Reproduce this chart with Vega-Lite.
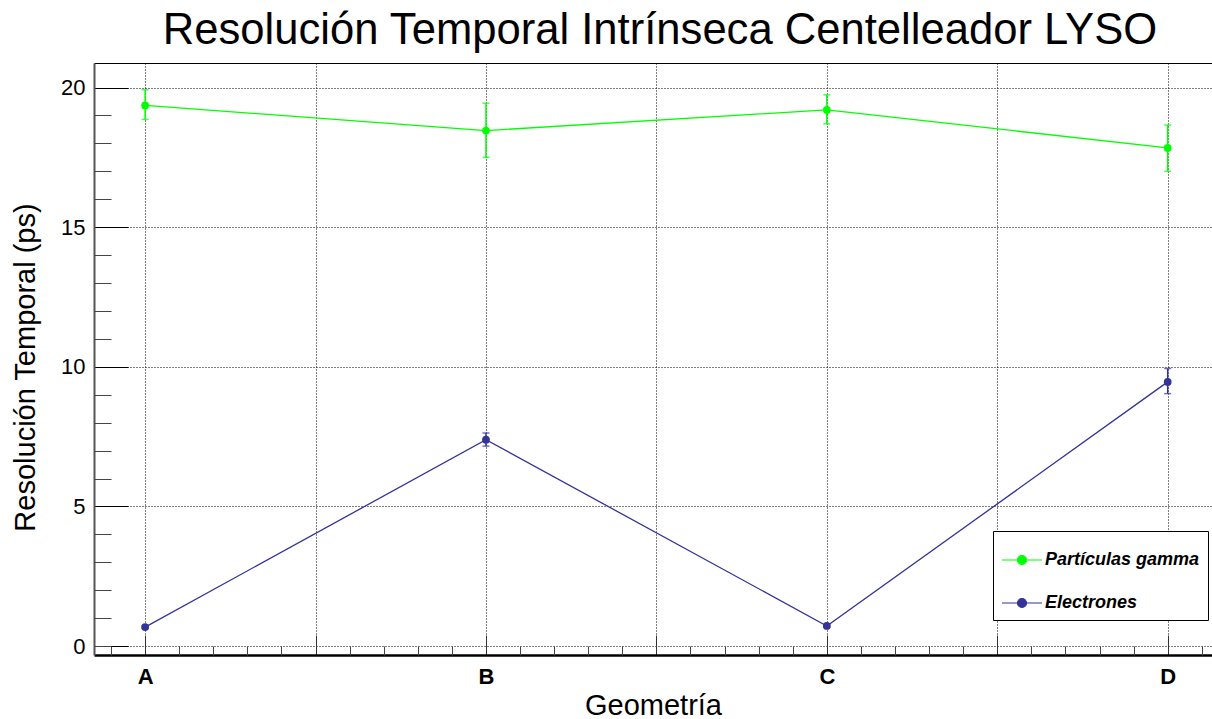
{
  "$schema": "https://vega.github.io/schema/vega-lite/v6.json",
  "width": 1118,
  "height": 592,
  "autosize": "none",
  "padding": {"left": 94, "top": 63, "right": 0, "bottom": 64},
  "background": "white",
  "config": {
    "view": {"stroke": null},
    "font": "Liberation Sans",
    "axis": {"labelFont": "Liberation Sans", "titleFont": "Liberation Sans", "labelColor": "black", "titleColor": "black", "titleFontWeight": "normal"}
  },
  "title": {
    "text": "Resolución Temporal Intrínseca Centelleador LYSO",
    "fontSize": 43.6,
    "fontWeight": "normal",
    "font": "Liberation Sans",
    "color": "black",
    "offset": 9,
    "dx": 7,
    "anchor": "middle"
  },
  "datasets": {
    "puntos": [
      {"geo": 1, "serie": "Partículas gamma", "valor": 19.36, "inf": 18.86, "sup": 19.92},
      {"geo": 2, "serie": "Partículas gamma", "valor": 18.46, "inf": 17.5, "sup": 19.44},
      {"geo": 3, "serie": "Partículas gamma", "valor": 19.2, "inf": 18.7, "sup": 19.74},
      {"geo": 4, "serie": "Partículas gamma", "valor": 17.84, "inf": 17.0, "sup": 18.66},
      {"geo": 1, "serie": "Electrones", "valor": 0.68, "inf": 0.63, "sup": 0.73},
      {"geo": 2, "serie": "Electrones", "valor": 7.39, "inf": 7.16, "sup": 7.63},
      {"geo": 3, "serie": "Electrones", "valor": 0.72, "inf": 0.67, "sup": 0.77},
      {"geo": 4, "serie": "Electrones", "valor": 9.46, "inf": 9.04, "sup": 9.94}
    ]
  },
  "data": {"name": "puntos"},
  "layer": [
    {
      "mark": {"type": "line", "strokeWidth": 1.3},
      "encoding": {
        "x": {
          "field": "geo", "type": "quantitative",
          "scale": {"domain": [0.85, 4.13], "nice": false, "zero": false},
          "axis": {
            "orient": "bottom",
            "values": [1, 1.5, 2, 2.5, 3, 3.5, 4],
            "labelExpr": "datum.value == 1 ? 'A' : datum.value == 2 ? 'B' : datum.value == 3 ? 'C' : datum.value == 4 ? 'D' : ''",
            "tickSize": -20,
            "tickColor": "#333",
            "grid": true, "gridDash": [1, 2], "gridColor": "black", "gridOpacity": 1,
            "labelFontSize": 22, "labelFontWeight": "bold", "labelPadding": 31,
            "domainColor": "black", "domainWidth": 2.5,
            "title": "Geometría", "titleFontSize": 29, "titlePadding": 4
          }
        },
        "y": {
          "field": "valor", "type": "quantitative",
          "scale": {"domain": [-0.32, 20.88], "nice": false, "zero": false},
          "axis": {
            "orient": "left",
            "values": [0, 5, 10, 15, 20],
            "tickSize": -34,
            "tickColor": "black",
            "grid": true, "gridDash": [1, 2], "gridColor": "black", "gridOpacity": 1,
            "labelFontSize": 22, "labelPadding": 43,
            "domainColor": "#555", "domainWidth": 2,
            "title": "Resolución Temporal (ps)", "titleFontSize": 29, "titlePadding": 20,
            "titleY": 304
          }
        },
        "color": {
          "field": "serie", "type": "nominal",
          "scale": {"domain": ["Partículas gamma", "Electrones"], "range": ["#00ff00", "#333399"]},
          "legend": {
            "orient": "none", "legendX": 899, "legendY": 468,
            "title": null,
            "strokeColor": "black", "fillColor": "white", "padding": 8,
            "symbolType": "M-1,0H1M-0.225,0a0.225,0.225 0 1,0 0.45,0a0.225,0.225 0 1,0 -0.45,0",
            "symbolSize": 1600, "symbolStrokeWidth": 1.2, "symbolOpacity": 1,
            "labelFont": "Liberation Sans", "labelFontSize": 18, "labelFontStyle": "italic", "labelFontWeight": "bold", "labelColor": "black",
            "rowPadding": 13, "labelOffset": 2,
            "encode": {"symbols": {"update": {"stroke": {"scale": "color", "field": "value"}, "fill": {"scale": "color", "field": "value"}, "strokeWidth": {"value": 1.2}}}}
          }
        }
      }
    },
    {
      "mark": {"type": "rule", "strokeWidth": 1.5},
      "encoding": {
        "x": {
          "field": "geo", "type": "quantitative",
          "axis": {
            "orient": "bottom",
            "values": [0.9, 1.1, 1.2, 1.3, 1.4, 1.6, 1.7, 1.8, 1.9, 2.1, 2.2, 2.3, 2.4, 2.6, 2.7, 2.8, 2.9, 3.1, 3.2, 3.3, 3.4, 3.6, 3.7, 3.8, 3.9, 4.1],
            "tickSize": -9, "tickColor": "#444",
            "labels": false, "domain": false, "grid": false, "title": null
          }
        },
        "y": {
          "field": "inf", "type": "quantitative",
          "axis": {
            "orient": "left",
            "values": [0, 1, 2, 3, 4, 6, 7, 8, 9, 11, 12, 13, 14, 16, 17, 18, 19],
            "tickSize": -17, "tickColor": "#444",
            "labels": false, "domain": false, "grid": false, "title": null
          }
        },
        "y2": {"field": "sup"},
        "color": {"field": "serie", "type": "nominal"}
      }
    },
    {
      "mark": {"type": "tick", "orient": "horizontal", "size": 7, "thickness": 1.5},
      "encoding": {
        "x": {
          "field": "geo", "type": "quantitative",
          "axis": {"orient": "top", "domain": true, "domainColor": "black", "domainWidth": 1.2, "ticks": false, "labels": false, "grid": false, "title": null}
        },
        "y": {"field": "inf", "type": "quantitative", "axis": null},
        "color": {"field": "serie", "type": "nominal"}
      }
    },
    {
      "mark": {"type": "tick", "orient": "horizontal", "size": 7, "thickness": 1.5},
      "encoding": {
        "x": {"field": "geo", "type": "quantitative", "axis": null},
        "y": {"field": "sup", "type": "quantitative", "axis": null},
        "color": {"field": "serie", "type": "nominal"}
      }
    },
    {
      "mark": {"type": "point", "filled": true, "size": 60, "opacity": 1},
      "encoding": {
        "x": {"field": "geo", "type": "quantitative", "axis": null},
        "y": {"field": "valor", "type": "quantitative", "axis": null},
        "color": {"field": "serie", "type": "nominal"}
      }
    }
  ],
  "resolve": {"axis": {"x": "independent", "y": "independent"}}
}
